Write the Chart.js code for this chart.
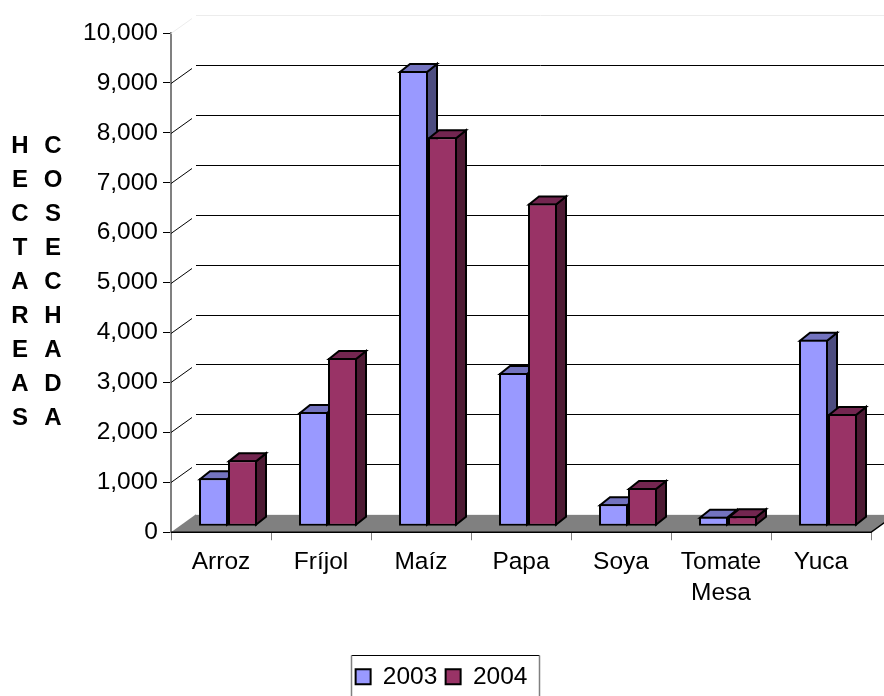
<!DOCTYPE html>
<html><head><meta charset="utf-8">
<style>html,body{margin:0;padding:0;background:#fff;overflow:hidden}canvas{display:block}</style>
<script src="https://cdn.jsdelivr.net/npm/chart.js@4"></script>
</head><body><canvas id="c" width="884" height="696"></canvas>
<script>
const categories = ['Arroz','Fríjol','Maíz','Papa','Soya',['Tomate','Mesa'],'Yuca'];
const seriesNames = ['2003','2004'];
const values2003 = [960,2290,9120,3070,440,190,3735];
const values2004 = [1320,3370,7790,6465,765,200,2250];
const titleColumn1 = 'HECTAREAS';
const titleColumn2 = 'COSECHADA';
const FONT = '"Liberation Sans", Arial, sans-serif';
const BLUE = '#9999FF', PLUM = '#993366';
const SHADES = {[BLUE]:{top:'#7373BF',side:'#4D4D80'},[PLUM]:{top:'#732650',side:'#4D1A33'}};

const BACK = {dx:25, dy:18}, BAR = {dx:7, dy:6, ddx:10, ddy:8};

const wall = {
  id:'wall',
  beforeDatasetsDraw(chart){
    const {ctx, scales:{y}, chartArea:a} = chart;
    ctx.save();
    const y0 = y.getPixelForValue(0);
    ctx.fillStyle = '#808080';
    ctx.beginPath();
    ctx.moveTo(a.left,y0); ctx.lineTo(a.right,y0);
    ctx.lineTo(a.right+BACK.dx,y0-BACK.dy); ctx.lineTo(a.left+BACK.dx,y0-BACK.dy);
    ctx.closePath(); ctx.fill();
    ctx.lineWidth = 1;
    y.ticks.forEach(t=>{
      const p = Math.round(y.getPixelForValue(t.value))+.5;
      const edge = t.value===0 || t.value===y.max;
      ctx.strokeStyle = edge ? '#ececec' : '#000';
      ctx.beginPath();
      if(t.value!==0){ ctx.moveTo(a.left,p); ctx.lineTo(a.left+BACK.dx-4,p-BACK.dy+3); }
      ctx.moveTo(a.left+BACK.dx,p-BACK.dy); ctx.lineTo(a.right+BACK.dx,p-BACK.dy);
      ctx.stroke();
    });
    ctx.strokeStyle = '#000'; ctx.lineWidth = 1.5;
    ctx.beginPath(); ctx.moveTo(a.left,y0); ctx.lineTo(a.right,y0);
    ctx.lineTo(a.right+BACK.dx,y0-BACK.dy); ctx.stroke();
    // depth faces of the bars, first series first so the second overlaps it
    ctx.translate(BAR.dx,-BAR.dy);
    ctx.lineWidth = 2; ctx.strokeStyle = '#000'; ctx.lineJoin = 'miter';
    chart.data.datasets.forEach((ds,i)=>{
      const shade = SHADES[ds.backgroundColor];
      chart.getDatasetMeta(i).data.forEach(b=>{
        const r = b.x+b.width/2-1, l = b.x-b.width/2+1, t = b.y+1, f = b.base-1;
        ctx.fillStyle = shade.side;
        ctx.beginPath(); ctx.moveTo(r,t); ctx.lineTo(r+BAR.ddx,t-BAR.ddy);
        ctx.lineTo(r+BAR.ddx,f-BAR.ddy); ctx.lineTo(r,f); ctx.closePath(); ctx.fill(); ctx.stroke();
        ctx.fillStyle = shade.top;
        ctx.beginPath(); ctx.moveTo(l,t); ctx.lineTo(r,t);
        ctx.lineTo(r+BAR.ddx,t-BAR.ddy); ctx.lineTo(l+BAR.ddx,t-BAR.ddy); ctx.closePath(); ctx.fill(); ctx.stroke();
      });
    });
    ctx.restore();
  },
  beforeDatasetDraw(chart){
    chart.ctx.save();
    chart.ctx.translate(BAR.dx,-BAR.dy);
  },
  afterDatasetDraw(chart){ chart.ctx.restore(); },
  afterDraw(chart){
    const {ctx, legend} = chart;
    ctx.save();
    ctx.font = 'bold 24px '+FONT;
    ctx.fillStyle = '#000'; ctx.textAlign = 'center'; ctx.textBaseline = 'middle';
    [[titleColumn1,20],[titleColumn2,53]].forEach(([word,x])=>{
      [...word].forEach((ch,i)=>ctx.fillText(ch,x,146+i*34));
    });
    const hb = legend.legendHitBoxes;
    const L = Math.round(hb[0].left)-5+.5, R = Math.round(hb[1].left+hb[1].width)+12+.5, T = 655.5;
    ctx.lineWidth = 1;
    ctx.strokeStyle = '#000';
    ctx.beginPath(); ctx.moveTo(L,T); ctx.lineTo(R,T); ctx.stroke();
    ctx.strokeStyle = '#808080'; ctx.lineWidth = 1.5;
    ctx.beginPath(); ctx.moveTo(L,T); ctx.lineTo(L,696); ctx.moveTo(R,T); ctx.lineTo(R,696); ctx.stroke();
    ctx.restore();
  }
};

new Chart(document.getElementById('c'),{
  type:'bar',
  data:{labels:categories,datasets:[
    {label:seriesNames[0],data:values2003,backgroundColor:BLUE,borderColor:'#000',borderWidth:2,borderSkipped:false,clip:false},
    {label:seriesNames[1],data:values2004,backgroundColor:PLUM,borderColor:'#000',borderWidth:2,borderSkipped:false,clip:false}
  ]},
  plugins:[wall],
  options:{
    responsive:false,animation:false,devicePixelRatio:1,
    events:[],
    layout:{padding:{left:12,right:13,top:33,bottom:-3}},
    datasets:{bar:{categoryPercentage:.58,barPercentage:1}},
    plugins:{
      tooltip:{enabled:false},
      legend:{position:'bottom',labels:{boxWidth:15,boxHeight:15,padding:8.25,color:'#000',font:{family:FONT,size:24.5}}}
    },
    scales:{
      x:{
        afterFit(s){s.height=124;},
        grid:{drawOnChartArea:false,drawTicks:true,tickLength:8,color:'#808080',lineWidth:1},
        border:{display:false},
        ticks:{color:'#000',autoSkip:false,maxRotation:0,padding:7,font:{family:FONT,size:24.5,lineHeight:1.265}}
      },
      y:{
        min:0,max:10000,
        afterFit(s){s.width=159;},
        grid:{drawOnChartArea:false,tickLength:8,color:'#000',lineWidth:1},
        border:{display:true,color:'#808080',width:2},
        ticks:{stepSize:1000,color:'#000',padding:5,font:{family:FONT,size:24.5},
          callback:v=>v.toLocaleString('en-US')}
      }
    }
  }
});
</script></body></html>
